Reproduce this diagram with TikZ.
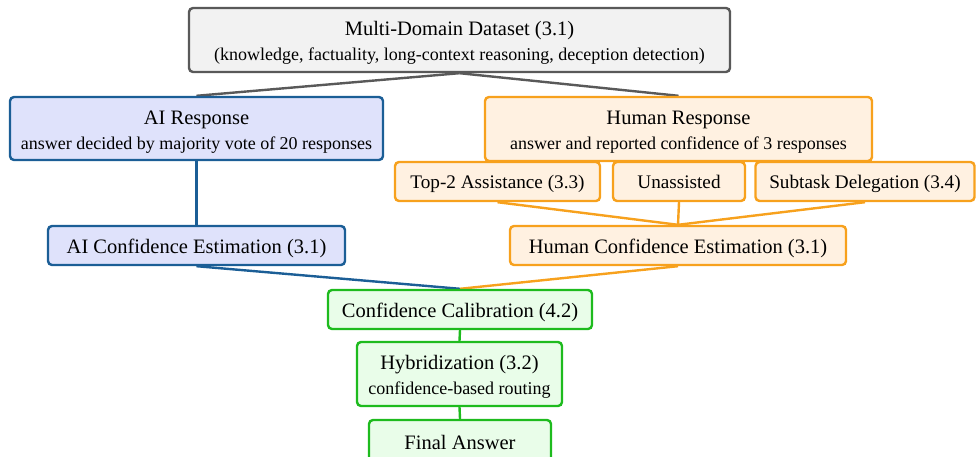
\documentclass[tikz,border=0pt]{standalone}
\usepackage{fontspec}
\setmainfont{Liberation Serif}
\usetikzlibrary{backgrounds}
\definecolor{grayb}{HTML}{595959}
\definecolor{grayf}{HTML}{F2F2F2}
\definecolor{blueb}{HTML}{1B5E96}
\definecolor{bluef}{HTML}{DFE2FB}
\definecolor{orangeb}{HTML}{F7A11D}
\definecolor{orangef}{HTML}{FFF1E1}
\definecolor{greenb}{HTML}{1EBB1E}
\definecolor{greenf}{HTML}{E9FDE9}
\tikzset{
  box/.style={draw, rounded corners=4pt, line width=2.4pt, inner sep=0pt, align=center,
    font=\fontsize{20.5}{25}\selectfont},
  oneline/.style={text height=20pt, text depth=4.5pt},
  rowbox/.style={font=\fontsize{19.2}{23}\selectfont, text height=19pt, text depth=4.2pt},
  graybox/.style={box, draw=grayb, fill=grayf},
  bluebox/.style={box, draw=blueb, fill=bluef},
  orangebox/.style={box, draw=orangeb, fill=orangef},
  greenbox/.style={box, draw=greenb, fill=greenf},
  link/.style={line width=2.4pt},
}
\newcommand{\subt}[1]{{\fontsize{18}{25}\selectfont #1}}
\newcommand{\tallstrut}{\rule{0pt}{20.5pt}}
\begin{document}
\begin{tikzpicture}[x=1pt,y=-1pt]
\useasboundingbox (0,0) rectangle (976,457);
% nodes
\node[graybox, minimum width=541pt, minimum height=64pt] (data) at (459.5,40)
  {\tallstrut Multi-Domain Dataset (3.1)\\\subt{(knowledge, factuality, long-context reasoning, deception detection)}};
\node[bluebox, minimum width=373pt, minimum height=63pt] (air) at (196.5,128.5)
  {\tallstrut AI Response\\\subt{answer decided by majority vote of 20 responses}};
\node[orangebox, minimum width=387pt, minimum height=64pt] (hr) at (678.5,129)
  {\tallstrut Human Response\\\subt{answer and reported confidence of 3 responses}};
\node[orangebox, rowbox, minimum width=205pt, minimum height=39pt] (top) at (497.5,181.5) {Top-2 Assistance (3.3)};
\node[orangebox, rowbox, minimum width=132pt, minimum height=39pt] (una) at (679,181.5) {Unassisted};
\node[orangebox, rowbox, minimum width=219pt, minimum height=39pt] (subd) at (865,181.5) {Subtask Delegation (3.4)};
\node[bluebox, oneline, minimum width=297pt, minimum height=39pt] (aic) at (196.5,245.5) {AI Confidence Estimation (3.1)};
\node[orangebox, oneline, minimum width=336pt, minimum height=39pt] (hc) at (678,245.5) {Human Confidence Estimation (3.1)};
\node[greenbox, oneline, minimum width=264pt, minimum height=39pt] (cal) at (460,309.5) {Confidence Calibration (4.2)};
\node[greenbox, minimum width=205pt, minimum height=64pt] (hyb) at (459.5,374)
  {\tallstrut Hybridization (3.2)\\\subt{confidence-based routing}};
\node[greenbox, oneline, minimum width=182pt, minimum height=44pt] (fin) at (460,442) {Final Answer};
% connectors
\begin{scope}[on background layer]
\draw[link, grayb] (data.south) -- (air.north);
\draw[link, grayb] (data.south) -- (hr.north);
\draw[link, blueb] (air.south) -- (aic.north);
\draw[link, orangeb] (top.south) -- (hc.north);
\draw[link, orangeb] (una.south) -- (hc.north);
\draw[link, orangeb] (subd.south) -- (hc.north);
\draw[link, blueb] (aic.south) -- (cal.north);
\draw[link, orangeb] (hc.south) -- (cal.north);
\draw[link, greenb] (cal.south) -- (hyb.north);
\draw[link, greenb] (hyb.south) -- (fin.north);
\end{scope}
\end{tikzpicture}
\end{document}
